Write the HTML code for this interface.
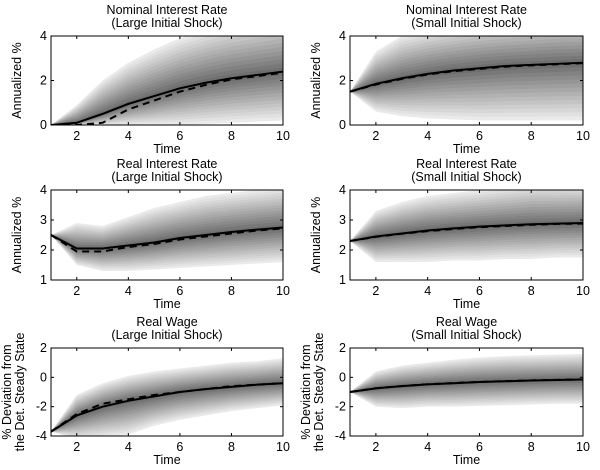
<!DOCTYPE html>
<html><head><meta charset="utf-8"><style>
body{margin:0;background:#fff}
svg{display:block;font-family:"Liberation Sans",sans-serif}
</style></head><body>
<svg id="c" width="600" height="470"></svg>
<script>
const times=[1,2,3,4,5,6,7,8,9,10];
const titles=[["Nominal Interest Rate","(Large Initial Shock)"],["Nominal Interest Rate","(Small Initial Shock)"],["Real Interest Rate","(Large Initial Shock)"],["Real Interest Rate","(Small Initial Shock)"],["Real Wage","(Large Initial Shock)"],["Real Wage","(Small Initial Shock)"]];
const solid1=[0,0.1,0.5,0.95,1.3,1.65,1.9,2.1,2.25,2.4];
const dashed1=[0,0,0.1,0.7,1.1,1.5,1.8,2.05,2.2,2.35];
const upper1=[0,0.9,2.0,2.8,3.4,3.9,4.3,4.6,4.8,5];
const lower1=[0,0,0,0,0,0,0.05,0.1,0.15,0.2];
const solid2=[1.5,1.85,2.1,2.3,2.45,2.55,2.65,2.7,2.75,2.8];
const dashed2=[1.5,1.82,2.07,2.27,2.42,2.52,2.62,2.68,2.73,2.78];
const upper2=[1.5,3.3,4,4.3,4.5,4.7,4.8,4.9,5,5];
const lower2=[1.5,0.6,0.4,0.3,0.25,0.2,0.2,0.2,0.2,0.2];
const solid3=[2.5,2.05,2.05,2.15,2.25,2.4,2.5,2.6,2.68,2.75];
const dashed3=[2.5,1.95,1.95,2.1,2.2,2.35,2.45,2.55,2.65,2.72];
const upper3=[2.5,2.9,2.8,3.1,3.4,3.6,3.8,3.9,4,4.1];
const lower3=[2.5,1.5,1.3,1.3,1.35,1.4,1.45,1.5,1.55,1.6];
const solid4=[2.3,2.45,2.55,2.65,2.72,2.78,2.82,2.86,2.88,2.9];
const dashed4=[2.3,2.44,2.54,2.63,2.7,2.76,2.8,2.84,2.87,2.88];
const upper4=[2.3,3.3,3.6,3.8,3.9,4,4.1,4.2,4.2,4.2];
const lower4=[2.3,1.6,1.6,1.6,1.65,1.65,1.7,1.7,1.75,1.75];
const solid5=[-3.7,-2.6,-2.0,-1.6,-1.3,-1.0,-0.8,-0.65,-0.5,-0.4];
const dashed5=[-3.7,-2.5,-1.8,-1.5,-1.2,-1.0,-0.8,-0.6,-0.5,-0.4];
const upper5=[-3.7,-1.2,-0.4,0.1,0.4,0.6,0.8,1.0,1.1,1.3];
const lower5=[-3.7,-4.2,-4.1,-3.9,-3.3,-2.9,-2.6,-2.3,-2.1,-1.9];
const solid6=[-1,-0.75,-0.6,-0.48,-0.4,-0.32,-0.27,-0.22,-0.18,-0.15];
const dashed6=[-1,-0.74,-0.59,-0.47,-0.39,-0.31,-0.26,-0.21,-0.17,-0.14];
const upper6=[-1,0.4,0.8,1.0,1.2,1.35,1.45,1.5,1.55,1.6];
const lower6=[-1,-2.0,-2.1,-2.0,-2.0,-1.95,-1.9,-1.85,-1.8,-1.8];
const xTicks=[2,4,6,8,10];
const yTicksNom=[0,2,4], yTicksReal=[1,2,3,4], yTicksWage=[-4,-2,0,2];

const S=[solid1,solid2,solid3,solid4,solid5,solid6],D=[dashed1,dashed2,dashed3,dashed4,dashed5,dashed6],U=[upper1,upper2,upper3,upper4,upper5,upper6],L=[lower1,lower2,lower3,lower4,lower5,lower6];
const yr=[[0,4],[0,4],[1,4],[1,4],[-4,2],[-4,2]];
const yt=[yTicksNom,yTicksNom,yTicksReal,yTicksReal,yTicksWage,yTicksWage];
const ylab=[["Annualized %"],["Annualized %"],["Annualized %"],["Annualized %"],["% Deviation from","the Det. Steady State"],["% Deviation from","the Det. Steady State"]];
const NS="http://www.w3.org/2000/svg",svg=document.getElementById('c');
function mk(t,a,p){const e=document.createElementNS(NS,t);for(const k in a)e.setAttribute(k,a[k]);(p||svg).appendChild(e);return e;}
const rowsY=[[36,125],[190,280],[348,436]],colsX=[[51,283],[350,583]];
for(let i=0;i<6;i++){
 const r=Math.floor(i/2),c=i%2;
 const [x0,x1]=colsX[c],[y0,y1]=rowsY[r];
 const xs=v=>x0+(v-1)/9*(x1-x0), ys=v=>y1-(v-yr[i][0])/(yr[i][1]-yr[i][0])*(y1-y0);
 const g=mk('g',{});  
 const cp=mk('clipPath',{id:'cp'+i},g); mk('rect',{x:x0,y:y0,width:x1-x0,height:y1-y0},cp);
 const pg=mk('g',{'clip-path':'url(#cp'+i+')'},g);
 const N=14;
 for(let k=0;k<N;k++){
  const f=1-k/N, sh=Math.round(234-k*9.5);
  const up=times.map((t,j)=>S[i][j]+f*(U[i][j]-S[i][j])), lo=times.map((t,j)=>S[i][j]+f*(L[i][j]-S[i][j]));
  let d='M'+times.map((t,j)=>xs(t)+','+ys(up[j])).join('L');
  for(let j=times.length-1;j>=0;j--)d+='L'+xs(times[j])+','+ys(lo[j]);
  const b=mk('path',{d:d+'Z',fill:`rgb(${sh},${sh},${sh})`},pg);
   
 }
 const ds=mk('polyline',{points:times.map((t,j)=>xs(t)+','+ys(D[i][j])).join(' '),fill:'none',stroke:'#000','stroke-width':2,'stroke-dasharray':'7,5'},pg);
  
 const sl=mk('polyline',{points:times.map((t,j)=>xs(t)+','+ys(S[i][j])).join(' '),fill:'none',stroke:'#000','stroke-width':2},pg);
  
 mk('rect',{x:x0,y:y0,width:x1-x0,height:y1-y0,fill:'none',stroke:'#000','stroke-width':1},g);
 xTicks.forEach(t=>{const x=xs(t);mk('line',{x1:x,x2:x,y1:y1,y2:y1-3,stroke:'#000'},g);mk('line',{x1:x,x2:x,y1:y0,y2:y0+3,stroke:'#000'},g);
  const tx=mk('text',{x:x,y:y1+15,'text-anchor':'middle','font-size':12.5},g);tx.textContent=t;});
 yt[i].forEach(t=>{const y=ys(t);mk('line',{x1:x0,x2:x0+3,y1:y,y2:y,stroke:'#000'},g);mk('line',{x1:x1,x2:x1-3,y1:y,y2:y,stroke:'#000'},g);
  const tx=mk('text',{x:x0-4,y:y+4,'text-anchor':'end','font-size':12.5},g);tx.textContent=t;});
 const xl=mk('text',{x:(x0+x1)/2,y:y1+28,'text-anchor':'middle','font-size':12.5},g);xl.textContent='Time';
 
 titles[i].forEach((s,k)=>{const t=mk('text',{x:(x0+x1)/2,y:y0-22+k*13,'text-anchor':'middle','font-size':12.5},g);t.textContent=s;
  });
 const lab=ylab[i];
 lab.forEach((s,k)=>{const cx=x0-(lab.length==1?30:40-k*13),cy=(y0+y1)/2;
  const t=mk('text',{x:cx,y:cy,'text-anchor':'middle','font-size':12.5,transform:`rotate(-90 ${cx} ${cy})`},g);t.textContent=s;
  });
}
</script>
</body></html>
